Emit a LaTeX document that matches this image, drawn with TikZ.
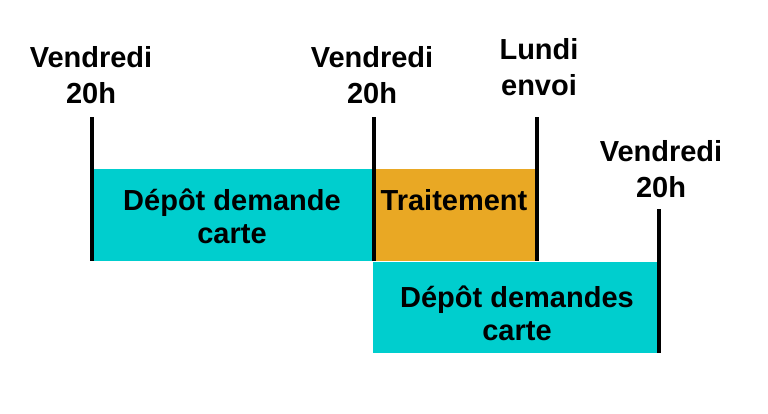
\documentclass[tikz,border=0pt]{standalone}
\usepackage{fontspec}
\setmainfont{Liberation Sans}
\definecolor{cyanbox}{RGB}{0,206,206}
\definecolor{orangebox}{RGB}{233,168,36}
\begin{document}
\begin{tikzpicture}[x=1pt,y=-1pt,
  lbl/.style={font=\fontsize{29}{36}\selectfont\bfseries, align=center, inner sep=0pt, anchor=base},
  boxtxt/.style={font=\fontsize{29}{33}\selectfont\bfseries, align=center, inner sep=0pt, anchor=base},
  tick/.style={line width=3.6pt, black}]
\useasboundingbox (0,0) rectangle (768,413);
% boxes
\fill[cyanbox] (92,169) rectangle (374,261);
\fill[orangebox] (374,169) rectangle (537,261);
\fill[cyanbox] (373,262) rectangle (659,353);
% box texts
\node[boxtxt] (t1) at (232,243) {Dépôt demande\\carte};
\node[boxtxt] (t2) at (454,210) {Traitement};
\node[boxtxt] (t3) at (517,340) {Dépôt demandes\\carte};
% ticks
\coordinate (a1) at (92,117); \coordinate (a2) at (92,261);
\coordinate (b1) at (374,117); \coordinate (b2) at (374,261);
\coordinate (c1) at (537,117); \coordinate (c2) at (537,261);
\coordinate (d1) at (659,209); \coordinate (d2) at (659,353);
\draw[tick] (a1) -- (a2);
\draw[tick] (b1) -- (b2);
\draw[tick] (c1) -- (c2);
\draw[tick] (d1) -- (d2);
% labels
\node[lbl] (l1) at (91,103) {Vendredi\\20h};
\node[lbl] (l2) at (372,103) {Vendredi\\20h};
\node[lbl] (l3) at (539,95) {Lundi\\envoi};
\node[lbl] (l4) at (661,197) {Vendredi\\20h};
\end{tikzpicture}
\end{document}
